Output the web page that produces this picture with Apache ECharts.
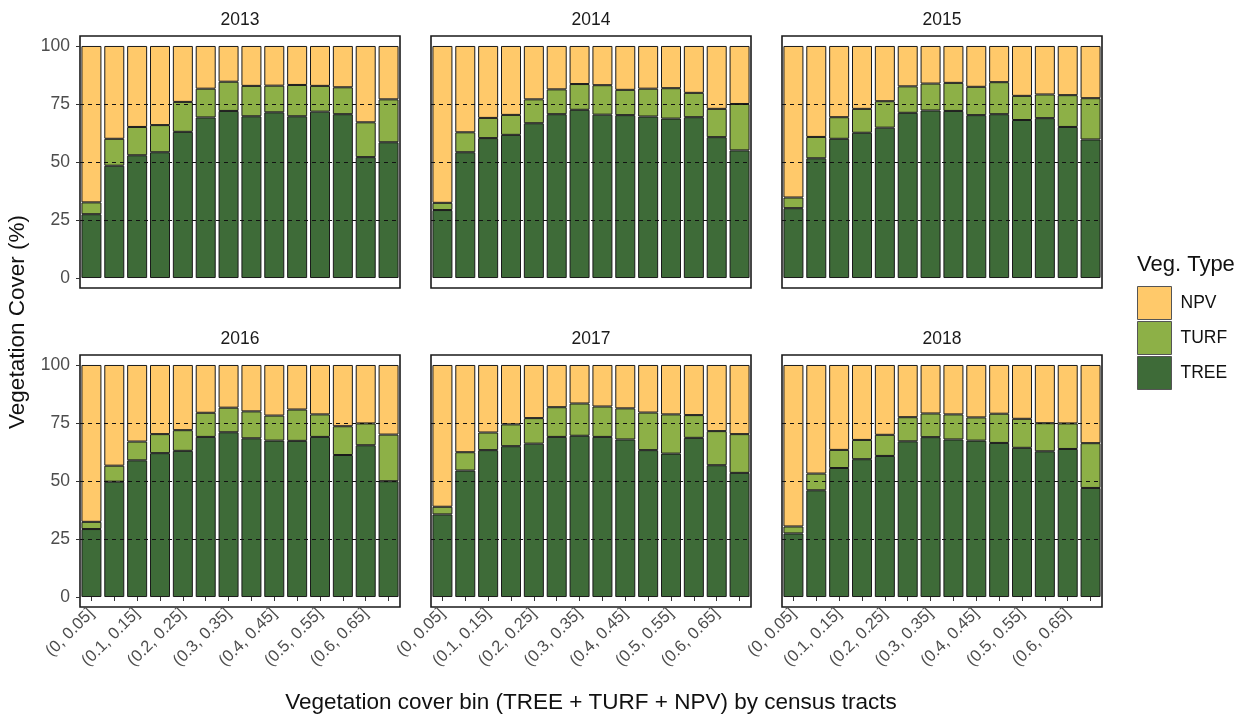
<!DOCTYPE html>
<html>
<head>
<meta charset="utf-8">
<title>Vegetation cover</title>
<script src="https://cdn.jsdelivr.net/npm/echarts@6/dist/echarts.min.js"></script>
<style>
  html, body { margin: 0; padding: 0; background: #fff; }
  #main { width: 1237px; height: 718px; }
</style>
</head>
<body>
<div id="main"></div>
<script>
// 分箱類別
var bins = ["(0, 0.05]", "(0.05, 0.1]", "(0.1, 0.15]", "(0.15, 0.2]", "(0.2, 0.25]",
  "(0.25, 0.3]", "(0.3, 0.35]", "(0.35, 0.4]", "(0.4, 0.45]", "(0.45, 0.5]",
  "(0.5, 0.55]", "(0.55, 0.6]", "(0.6, 0.65]", "(0.65, 0.7]"];

var years = ["2013", "2014", "2015", "2016", "2017", "2018"];
var yTicks = [0, 25, 50, 75, 100];
var refLines = [25, 50, 75];

// 每年的 TREE / TURF / NPV 百分比
var tree2013 = [27.5, 48.4, 52.9, 54.2, 63.0, 69.2, 72.0, 69.7, 71.4, 69.7, 71.7, 70.6, 52.1, 58.5];
var turf2013 = [5.1, 11.6, 12.2, 11.7, 12.9, 12.4, 12.6, 13.1, 11.5, 13.5, 11.1, 11.6, 15.0, 18.5];
var npv2013 = [67.4, 40.0, 34.9, 34.1, 24.1, 18.4, 15.4, 17.2, 17.1, 16.8, 17.2, 17.8, 32.9, 23.0];

var tree2014 = [29.3, 54.2, 60.3, 61.7, 66.7, 70.6, 72.5, 70.4, 70.2, 69.6, 68.7, 69.3, 60.7, 55.0];
var turf2014 = [3.1, 8.6, 8.7, 8.6, 10.3, 10.7, 11.1, 12.7, 10.9, 12.0, 13.1, 10.5, 12.2, 20.0];
var npv2014 = [67.6, 37.2, 31.0, 29.7, 23.0, 18.7, 16.4, 16.9, 18.9, 18.4, 18.2, 20.2, 27.1, 25.0];

var tree2015 = [30.1, 51.6, 60.0, 62.6, 64.8, 71.2, 72.2, 72.0, 70.2, 70.6, 68.1, 68.9, 65.1, 59.7];
var turf2015 = [4.6, 9.2, 9.3, 10.3, 11.4, 11.4, 11.6, 12.1, 12.2, 13.8, 10.4, 10.2, 13.7, 17.8];
var npv2015 = [65.3, 39.2, 30.7, 27.1, 23.8, 17.4, 16.2, 15.9, 17.6, 15.6, 21.5, 20.9, 21.2, 22.5];

var tree2016 = [29.3, 49.7, 58.9, 62.0, 63.0, 69.0, 71.0, 68.4, 67.4, 67.3, 69.0, 61.2, 65.4, 49.9];
var turf2016 = [3.1, 6.9, 8.1, 8.2, 8.9, 10.4, 10.6, 11.6, 10.8, 13.5, 9.7, 12.4, 9.4, 20.1];
var npv2016 = [67.6, 43.4, 33.0, 29.8, 28.1, 20.6, 18.4, 20.0, 21.8, 19.2, 21.3, 26.4, 25.2, 30.0];

var tree2017 = [35.6, 54.5, 63.3, 65.0, 66.1, 69.0, 69.5, 69.0, 67.9, 63.3, 61.8, 68.6, 56.8, 53.5];
var turf2017 = [3.3, 7.9, 7.6, 9.4, 11.0, 12.8, 13.9, 13.1, 13.4, 16.2, 16.9, 9.8, 14.7, 16.7];
var npv2017 = [61.1, 37.6, 29.1, 25.6, 22.9, 18.2, 16.6, 17.9, 18.7, 20.5, 21.3, 21.6, 28.5, 29.8];

var tree2018 = [27.4, 46.0, 55.6, 59.4, 60.8, 67.1, 68.9, 67.9, 67.4, 66.4, 64.3, 62.8, 63.8, 47.0];
var turf2018 = [3.0, 7.2, 7.8, 8.3, 9.1, 10.4, 10.2, 10.8, 10.0, 12.6, 12.5, 12.1, 11.0, 19.3];
var npv2018 = [69.6, 46.8, 36.6, 32.3, 30.1, 22.5, 20.9, 21.3, 22.6, 21.0, 23.2, 25.1, 25.2, 33.7];

var treeData = [tree2013, tree2014, tree2015, tree2016, tree2017, tree2018];
var turfData = [turf2013, turf2014, turf2015, turf2016, turf2017, turf2018];
var npvData = [npv2013, npv2014, npv2015, npv2016, npv2017, npv2018];

var colors = { TREE: "#3e6b38", TURF: "#8db047", NPV: "#ffc96a" };
var fontFam = 'Helvetica, "Liberation Sans", Arial, sans-serif';

var chartDom = document.getElementById("main");
var myChart = echarts.init(chartDom);

// 面板位置
var panelLeft = [80, 431, 782];
var panelTop = [36, 355];
var panelW = 320;
var panelH = 252;

var grids = [], xAxes = [], yAxes = [], series = [], titles = [];

years.forEach(function (yr, i) {
  var col = i % 3;
  var row = Math.floor(i / 3);
  var isBottom = row === 1;
  var isLeft = col === 0;

  grids.push({
    left: panelLeft[col], top: panelTop[row], width: panelW, height: panelH,
    show: true, borderColor: "#1a1a1a", borderWidth: 1.6, backgroundColor: "#fff"
  });

  xAxes.push({
    type: "category", gridIndex: i, data: bins,
    axisLine: { show: false },
    axisTick: {
      show: isBottom, alignWithLabel: true, interval: 0, length: 4,
      lineStyle: { color: "#333", width: 1 }
    },
    axisLabel: {
      show: isBottom, interval: 1, rotate: 45, margin: 4,
      fontSize: 16.5, color: "#4d4d4d", fontFamily: fontFam
    },
    splitLine: { show: false }
  });

  yAxes.push({
    type: "value", gridIndex: i, min: -4.3, max: 104.3,
    axisLine: { show: false },
    axisTick: {
      show: isLeft, length: 4, customValues: yTicks,
      lineStyle: { color: "#333", width: 1 }
    },
    axisLabel: {
      show: isLeft, customValues: yTicks, margin: 10,
      fontSize: 17.5, color: "#4d4d4d", fontFamily: fontFam
    },
    splitLine: { show: false }
  });

  titles.push({
    text: yr, left: panelLeft[col] + panelW / 2 - 5, top: panelTop[row] - 30,
    textAlign: "center",
    textStyle: { fontSize: 17.5, fontWeight: "normal", color: "#1a1a1a", fontFamily: fontFam }
  });

  var parts = [["TREE", treeData[i]], ["TURF", turfData[i]], ["NPV", npvData[i]]];
  parts.forEach(function (p, k) {
    var s = {
      name: p[0], type: "bar", stack: "veg" + i,
      xAxisIndex: i, yAxisIndex: i,
      data: p[1], barWidth: 20,
      itemStyle: { color: colors[p[0]], borderColor: "#1a1a1a", borderWidth: 1 }
    };
    if (k === 2) {
      s.markLine = {
        silent: true, symbol: "none",
        label: { show: false },
        lineStyle: { type: [4, 4], color: "#111", width: 1 },
        data: refLines.map(function (v) { return { yAxis: v }; })
      };
    }
    series.push(s);
  });
});

titles.push({
  text: "Veg. Type", left: 1132, top: 249,
  textStyle: { fontSize: 22, fontWeight: "normal", color: "#111", fontFamily: fontFam }
});

var option = {
  animation: false,
  backgroundColor: "#fff",
  title: titles,
  grid: grids,
  xAxis: xAxes,
  yAxis: yAxes,
  series: series,
  legend: {
    data: ["NPV", "TURF", "TREE"],
    orient: "vertical", left: 1132, top: 281,
    itemWidth: 34, itemHeight: 33, itemGap: 1,
    icon: "rect",
    textStyle: { fontSize: 17.5, color: "#111", fontFamily: fontFam, padding: [0, 0, 0, 4] },
    itemStyle: { borderColor: "#555", borderWidth: 1 }
  },
  graphic: [
    {
      type: "text", x: 18, y: 322, rotation: Math.PI / 2,
      style: {
        text: "Vegetation Cover (%)", fontSize: 22.5, fill: "#111",
        fontFamily: fontFam, align: "center", verticalAlign: "middle"
      }
    },
    {
      type: "text", x: 591, y: 703,
      style: {
        text: "Vegetation cover bin (TREE + TURF + NPV) by census tracts",
        fontSize: 22.5, fill: "#111", fontFamily: fontFam,
        align: "center", verticalAlign: "middle"
      }
    }
  ]
};

option && myChart.setOption(option);
</script>
</body>
</html>
